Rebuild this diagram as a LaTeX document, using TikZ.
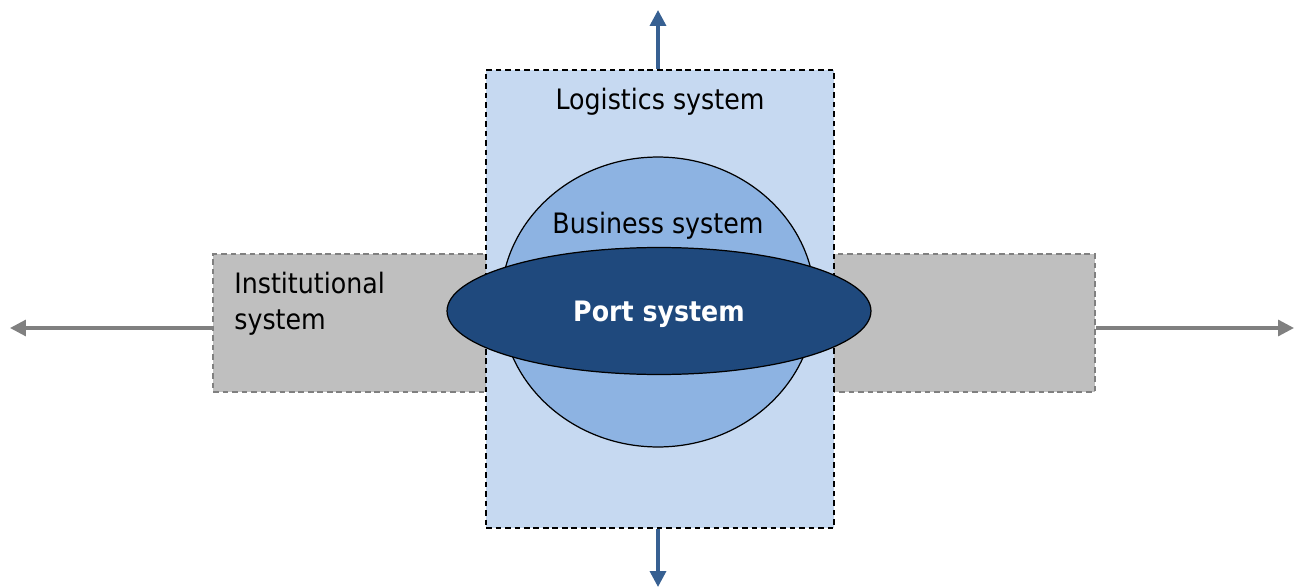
\documentclass[tikz,border=0pt]{standalone}
\usepackage{fontspec}
\setmainfont{DejaVu Sans}[FakeStretch=0.9]
\usetikzlibrary{shapes.geometric, arrows.meta}
\definecolor{logblue}{HTML}{C6D9F1}
\definecolor{busblue}{HTML}{8DB3E2}
\definecolor{portblue}{HTML}{1F497D}
\definecolor{instgray}{HTML}{BFBFBF}
\definecolor{arrowblue}{HTML}{376092}
\definecolor{arrowgray}{HTML}{808080}
\tikzset{
  layer/.style={
    rectangle,
    inner sep=0pt,
    dash pattern=on 3.2pt off 2.2pt
  },
  bubble/.style={
    ellipse,
    draw=black,
    line width=0.7pt,
    inner sep=0pt
  },
  label/.style={
    font=\fontsize{16}{20.5}\selectfont,
    inner sep=0pt
  },
  outflow/.style={
    line width=2pt,
    -{Triangle[length=9pt,width=9pt]}
  }
}

\begin{document}
\begin{tikzpicture}[x=0.02cm, y=-0.02cm]
        \useasboundingbox (0,0) rectangle (1295,588);
        % outer layers
        \node[layer, draw=arrowgray, fill=instgray, line width=0.9pt,
              minimum width=17.64cm, minimum height=2.76cm] (inst) at (654,323) {};
        \node[layer, draw=black, fill=logblue, line width=0.8pt,
              minimum width=6.96cm, minimum height=9.16cm] (logistics) at (660,299) {};
        % inner systems
        \node[bubble, fill=busblue, minimum width=6.28cm, minimum height=5.8cm] (business) at (658,302) {};
        \node[bubble, fill=portblue, minimum width=8.48cm, minimum height=2.54cm] (port) at (659,311) {};

        \node[label] (logtext) at (660,102) {Logistics system};
        \node[label] (bustext) at (658,226) {Business system};
        \node[label, text=white, font=\fontsize{16}{20.5}\selectfont\bfseries] (porttext) at (659,314) {Port system};
        \node[label, anchor=north west, align=left] (insttext) at (234,272) {Institutional\\system};

        % arrows out
        \coordinate (leftend) at (10,328);
        \coordinate (rightend) at (1294,328);
        \coordinate (topend) at (658,10);
        \coordinate (bottomend) at (658,587);
        \draw[outflow, draw=arrowgray, fill=arrowgray, line width=1.8pt] (inst.west |- leftend) -- (leftend);
        \draw[outflow, draw=arrowgray, fill=arrowgray, line width=1.8pt] (inst.east |- rightend) -- (rightend);
        \draw[outflow, draw=arrowblue, fill=arrowblue] (topend |- logistics.north) -- (topend);
        \draw[outflow, draw=arrowblue, fill=arrowblue] (bottomend |- logistics.south) -- (bottomend);
      \end{tikzpicture}
\end{document}
